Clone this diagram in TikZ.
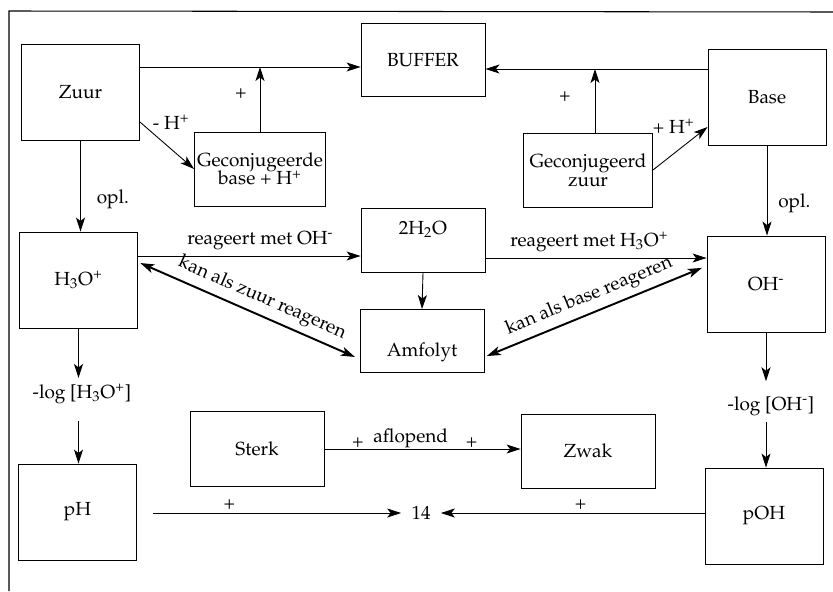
\documentclass[tikz,border=0pt]{standalone}
\usepackage[T1]{fontenc}
\usepackage{mathpazo}
\usetikzlibrary{arrows.meta}
\tikzset{
	>={Stealth[length=2.8mm,width=1.8mm,inset=0.7mm]},
	blok/.style={draw, line width=0.5pt, minimum width=23.6mm, minimum height=19.2mm, inner sep=1pt},
	kader/.style={draw, line width=0.5pt, minimum width=24.8mm, minimum height=14.8mm, align=center, inner sep=1pt},
	pijl/.style={->, line width=0.5pt},
	dubbel/.style={<->, line width=1.1pt, shorten <=0.5mm, shorten >=1mm},
}
\def\hplus{H\textsuperscript{+}}
\def\hdrie{H\textsubscript{3}O\textsuperscript{+}}
\def\ohmin{OH\textsuperscript{-}}

\begin{document}
\begin{tikzpicture}[x=0.2mm, y=-0.2mm, font=\fontsize{10.8}{12}\selectfont]
	\useasboundingbox (0,0) rectangle (833,591);
	\draw[line width=0.6pt] (833,12) -- (9,11) -- (9,591);

	% bovenste rij
	\node[blok] (zuur) at (80.5,92) {Zuur};
	\node[kader, minimum height=14.6mm] (buffer) at (423,60) {BUFFER};
	\node[blok] (base) at (767,97) {Base};
	\node[kader, minimum width=26.2mm] (gcbase) at (260,169) {Geconjugeerde\\[-1.5pt]base + \hplus};
	\node[kader, minimum width=25.8mm] (gczuur) at (588,170) {Geconjugeerd\\[-1.5pt]zuur};
	\coordinate (knik1) at (260,67);
	\coordinate (knik2) at (595,69);

	\draw[pijl] (zuur.east |- knik1) -- (buffer.west |- knik1);
	\draw[pijl] (gcbase.north) -- (knik1) node[pos=.58, left=1.4mm] {+};
	\draw[pijl] (base.west |- knik2) -- (buffer.east |- knik2);
	\draw[pijl] (gczuur.north -| knik2) -- (knik2) node[pos=.56, left=3.6mm] {+};
	\draw[pijl] ([yshift=-6mm]zuur.east) -- (gcbase.west) node[pos=.2, above right, inner sep=1pt] {- \hplus};
	\draw[pijl] (gczuur.east) -- ([yshift=-6mm]base.west) node[pos=.8, above left, inner sep=1pt] {+ \hplus};

	% middelste rij
	\node[blok] (h3o) at (78.5,280) {\hdrie};
	\node[kader, minimum height=12.8mm, text depth=5mm] (water) at (423,240) {2H\textsubscript{2}O};
	\node[kader, minimum height=12.6mm, text height=7.3mm] (amfolyt) at (422,341) {Amfolyt};
	\node[blok] (oh) at (766,284) {\ohmin};

	\draw[pijl] (zuur.south) -- (zuur.south |- h3o.north) node[pos=.65, right=2mm] {opl.};
	\draw[pijl] (base.south) -- (base.south |- oh.north) node[pos=.64, right=1mm] {opl.};
	\draw[pijl] (h3o.east |- 0,256) -- (water.west |- 0,256) node[pos=.55, above] {reageert met \ohmin};
	\draw[pijl] (water.east |- 0,258) -- (oh.west |- 0,258) node[pos=.47, above] {reageert met \hdrie};
	\draw[pijl] (water.south) -- (amfolyt.north);
	\draw[dubbel] ([yshift=3.6mm]h3o.east) -- ([yshift=-3.6mm]amfolyt.west) node[pos=.53, sloped, above] {kan als zuur reageren};
	\draw[dubbel] ([yshift=-3.2mm]amfolyt.east) -- ([yshift=3.6mm]oh.west) node[midway, sloped, above] {kan als base reageren};

	% onderste rij
	\node (logh) at (82,394) {-log [\hdrie]};
	\node (logoh) at (771,406) {-log [\ohmin]};
	\node[blok] (ph) at (77.5,512) {pH};
	\node[blok] (poh) at (764,516) {pOH};
	\node[kader, minimum width=26.8mm, minimum height=15mm] (sterk) at (257,449) {Sterk};
	\node[kader, minimum width=26.8mm] (zwak) at (588,451) {Zwak};
	\node[inner sep=2mm] (veertien) at (421,513) {14};

	\draw[pijl] (h3o.south) -- (h3o.south |- logh.north);
	\draw[pijl, shorten <=2.2mm] (h3o.south |- logh.south) -- (h3o.south |- ph.north);
	\draw[pijl, shorten >=1.8mm] (oh.south) -- (oh.south |- logoh.north);
	\draw[pijl] (oh.south |- logoh.south) -- (oh.south |- poh.north);
	\draw[pijl] (sterk.east) -- (zwak.west |- sterk.east)
		node[pos=.17, above, inner sep=0.5pt] {+}
		node[pos=.44, above, inner sep=0.3pt] {aflopend}
		node[pos=.75, above, inner sep=0.5pt] {+};
	\draw[pijl, shorten <=3.2mm] (ph.east |- veertien) -- (veertien.west) node[pos=.35, above, inner sep=1.5pt] {+};
	\draw[pijl] (poh.west |- veertien) -- (veertien.east) node[pos=.47, above, inner sep=1.5pt] {+};
\end{tikzpicture}
\end{document}
